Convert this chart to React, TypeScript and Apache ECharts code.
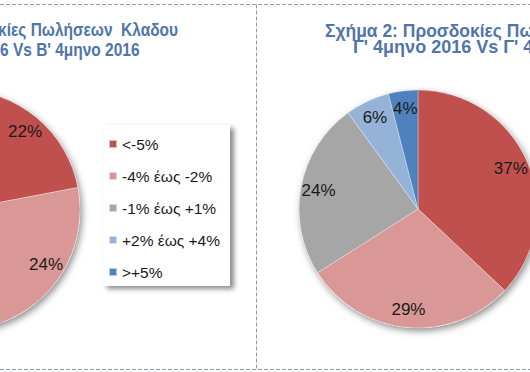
import React, { useEffect, useRef } from "react";
import * as echarts from "echarts";

const categories = ["<-5%", "-4% έως -2%", "-1% έως +1%", "+2% έως +4%", ">+5%"];
const chart1Values = [22, 24, 40, 9, 5];
const chart2Values = [37, 29, 24, 6, 4];
const colors = ["#C0504D", "#D99795", "#A6A6A6", "#95B3D7", "#4F81BD"];
const title1Lines = ["Σχήμα 1: Προσδοκίες Πωλήσεων  Κλαδου", "Γ' 4μηνο 2016 Vs B' 4μηνο 2016"];
const title2Lines = ["Σχήμα 2: Προσδοκίες Πωλήσεων Κλαδου", "Γ' 4μηνο 2016 Vs Γ' 4μηνο 2015"];

const FONT = "'Liberation Sans', Arial, sans-serif";
const BORDER = "#8C9DB3";
const TITLE_COLOR = "#5075AA";

function makePie(values: number[], center: number[], r: number): any[] {
  const data = categories.map((name, i) => ({ name, value: values[i], itemStyle: { color: colors[i] } }));
  return [
    {
      type: "pie",
      name: "shadow",
      center,
      radius: r,
      silent: true,
      label: { show: false },
      labelLine: { show: false },
      data: [{ name: "_bg", value: 1, itemStyle: { color: "#ffffff", shadowBlur: 7, shadowOffsetX: 2, shadowOffsetY: 3, shadowColor: "rgba(0,0,0,0.45)" } }],
      z: 1,
    },
    {
      type: "pie",
      center,
      radius: r,
      startAngle: 90,
      clockwise: true,
      label: { show: false },
      labelLine: { show: false },
      itemStyle: { borderColor: "rgba(255,255,255,0.6)", borderWidth: 0.5 },
      data,
      z: 2,
    },
    {
      type: "pie",
      center,
      radius: [r * 0.65, r],
      startAngle: 90,
      clockwise: true,
      silent: true,
      itemStyle: { color: "rgba(0,0,0,0)" },
      label: {
        show: true,
        position: "inside",
        formatter: "{c}%",
        fontFamily: FONT,
        fontSize: 17,
        color: "#1a1a1a",
      },
      labelLine: { show: false },
      data: categories.map((name, i) => ({ name, value: values[i] })),
      z: 3,
    },
  ];
}

function titleText(text: string, x: number, y: number, align: string, scaleX: number) {
  return {
    type: "text",
    x,
    y,
    scaleX,
    z: 10,
    style: { text, align, verticalAlign: "middle", fill: TITLE_COLOR, font: `bold 18px ${FONT}`, lineHeight: 14 },
  };
}

export default function App() {
  const ref = useRef<HTMLDivElement>(null);
  useEffect(() => {
    const chart = echarts.init(ref.current!, null, { renderer: "svg" });
    chart.setOption({
      animation: false,
      backgroundColor: "#ffffff",
      legend: {
        orient: "vertical",
        left: 103,
        top: 125,
        data: categories,
        icon: "rect",
        itemWidth: 8,
        itemHeight: 8,
        itemGap: 14,
        padding: [10, 10, 5, 5],
        backgroundColor: "#ffffff",
        shadowBlur: 5,
        shadowOffsetX: 4,
        shadowOffsetY: 3,
        shadowColor: "rgba(0,0,0,0.45)",
        selectedMode: false,
        textStyle: { fontFamily: FONT, fontSize: 15.5, color: "#1a1a1a", lineHeight: 18 },
      },
      graphic: [
        { type: "line", shape: { x1: 0, y1: 4.5, x2: 530, y2: 4.5 }, style: { stroke: BORDER, lineWidth: 1, lineDash: [4, 2] }, z: 0 },
        { type: "line", shape: { x1: 0, y1: 369.5, x2: 530, y2: 369.5 }, style: { stroke: BORDER, lineWidth: 1, lineDash: [4, 2] }, z: 0 },
        { type: "line", shape: { x1: 256.5, y1: 4.5, x2: 256.5, y2: 369.5 }, style: { stroke: BORDER, lineWidth: 1, lineDash: [4, 2] }, z: 0 },
        titleText(title1Lines[0], 178, 30, "right", 0.86),
        titleText(title1Lines[1], 139.5, 50, "right", 0.86),
        titleText(title2Lines[0], 325, 31, "left", 0.97),
        titleText(title2Lines[1], 353, 46.5, "left", 1),
      ],
      series: [...makePie(chart1Values, [-40, 210], 120), ...makePie(chart2Values, [418, 209], 119)],
    });
    return () => chart.dispose();
  }, []);
  return <div ref={ref} style={{ position: "absolute", left: 0, top: 0, width: 530, height: 372 }} />;
}
